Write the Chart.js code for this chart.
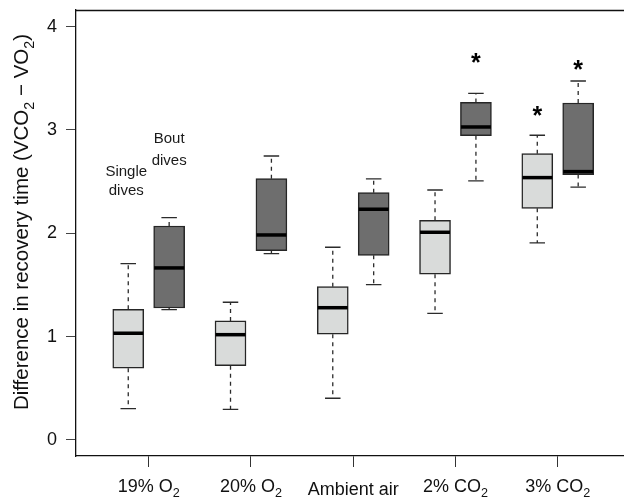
<!DOCTYPE html>
<html>
<head>
<meta charset="utf-8">
<script src="https://cdn.jsdelivr.net/npm/chart.js@4/dist/chart.umd.min.js"></script>
<style>
html,body{margin:0;padding:0;background:#fff;overflow:hidden;}
canvas{display:block;}
</style>
</head>
<body>
<canvas id="c" width="624" height="497"></canvas>
<script>
// ---- data ----
const categories = ['19% O₂', '20% O₂', 'Ambient air', '2% CO₂', '3% CO₂'];
const yTicks = [0, 1, 2, 3, 4];

const singleMin    = [0.303, 0.297, 0.404, 1.226, 1.907];
const singleQ1     = [0.694, 0.719, 1.023, 1.604, 2.242];
const singleMedian = [1.033, 1.019, 1.280, 2.010, 2.539];
const singleQ3     = [1.265, 1.152, 1.484, 2.126, 2.771];
const singleMax    = [1.706, 1.333, 1.865, 2.419, 2.949];

const boutMin      = [1.261, 1.803, 1.503, 2.507, 2.446];
const boutQ1       = [1.277, 1.832, 1.787, 2.945, 2.568];
const boutMedian   = [1.665, 1.984, 2.233, 3.029, 2.597];
const boutQ3       = [2.071, 2.529, 2.393, 3.267, 3.261];
const boutMax      = [2.151, 2.748, 2.526, 3.355, 3.474];

// significance stars (value at which the star is drawn), null = none
const singleStar = [null, null, null, null, 3.187];
const boutStar   = [null, null, null, 3.694, 3.629];

const yTitle = 'Difference in recovery time (VCO₂ − VO₂)';
const seriesNames = ['Single dives', 'Bout dives'];

// ---- styling ----
const FONT = '"Liberation Sans", Arial, Helvetica, sans-serif';
const LIGHT = '#d9dbda';
const DARK = '#6e6e6e';
const EDGE = '#262626';
const OFFSET = 0.2;
const BOXW = 31;

const subMap = {'₀':'0','₁':'1','₂':'2','₃':'3','₄':'4','₅':'5','₆':'6','₇':'7','₈':'8','₉':'9'};
function segments(text){
  const segs = [];
  for (const ch of text){
    const sub = ch in subMap;
    const c = sub ? subMap[ch] : ch;
    if (segs.length && segs[segs.length-1].sub === sub) segs[segs.length-1].t += c;
    else segs.push({t:c, sub});
  }
  return segs;
}
function drawRich(ctx, text, x, y, size){
  const segs = segments(text);
  let w = 0;
  segs.forEach(s => {
    ctx.font = (s.sub ? size*0.7 : size) + 'px ' + FONT;
    s.w = ctx.measureText(s.t).width;
    w += s.w;
  });
  let cx = x - w/2;
  ctx.textAlign = 'left';
  ctx.textBaseline = 'alphabetic';
  segs.forEach(s => {
    ctx.font = (s.sub ? size*0.7 : size) + 'px ' + FONT;
    ctx.fillText(s.t, cx, y + (s.sub ? size*0.28 : 0));
    cx += s.w;
  });
}

const boxPlugin = {
  id: 'boxDecor',
  afterDatasetsDraw(chart){
    const ctx = chart.ctx;
    const xs = chart.scales.x, ys = chart.scales.y;
    const series = [
      {off:-OFFSET, mn:singleMin, md:singleMedian, q1:singleQ1, q3:singleQ3, mx:singleMax, star:singleStar},
      {off: OFFSET, mn:boutMin,   md:boutMedian,   q1:boutQ1,   q3:boutQ3,   mx:boutMax,   star:boutStar}
    ];
    ctx.save();
    series.forEach(s => {
      categories.forEach((c, i) => {
        const xc = xs.getPixelForValue(i + s.off);
        const yMin = ys.getPixelForValue(s.mn[i]);
        const yMax = ys.getPixelForValue(s.mx[i]);
        const yQ1 = ys.getPixelForValue(s.q1[i]);
        const yQ3 = ys.getPixelForValue(s.q3[i]);
        const yMd = ys.getPixelForValue(s.md[i]);
        ctx.strokeStyle = '#2b2b2b';
        ctx.lineWidth = 1.3;
        ctx.setLineDash([4, 4]);
        ctx.beginPath();
        ctx.moveTo(xc, yQ3); ctx.lineTo(xc, yMax);
        ctx.moveTo(xc, yQ1); ctx.lineTo(xc, yMin);
        ctx.stroke();
        ctx.setLineDash([]);
        ctx.beginPath();
        ctx.moveTo(xc - BOXW/4, yMax); ctx.lineTo(xc + BOXW/4, yMax);
        ctx.moveTo(xc - BOXW/4, yMin); ctx.lineTo(xc + BOXW/4, yMin);
        ctx.stroke();
        ctx.strokeStyle = '#000';
        ctx.lineWidth = 3.5;
        ctx.beginPath();
        ctx.moveTo(xc - BOXW/2 + 0.5, yMd); ctx.lineTo(xc + BOXW/2 - 0.5, yMd);
        ctx.stroke();
        if (s.star[i] != null){
          ctx.fillStyle = '#000';
          ctx.font = 'bold 25px ' + FONT;
          ctx.textAlign = 'center';
          ctx.textBaseline = 'alphabetic';
          const m = ctx.measureText('*');
          const yc = ys.getPixelForValue(s.star[i]);
          ctx.fillText('*', xc, yc + (m.actualBoundingBoxAscent - m.actualBoundingBoxDescent)/2);
        }
      });
    });
    ctx.fillStyle = '#1a1a1a';
    ctx.font = '15px ' + FONT;
    ctx.textAlign = 'center';
    ctx.textBaseline = 'alphabetic';
    const sx = xs.getPixelForValue(-OFFSET) - 2;
    const bx = xs.getPixelForValue(OFFSET);
    const sw = seriesNames[0].split(' '), bw = seriesNames[1].split(' ');
    ctx.fillText(sw[0], sx, ys.getPixelForValue(2.555));
    ctx.fillText(sw[1], sx, ys.getPixelForValue(2.371));
    ctx.fillText(bw[0], bx, ys.getPixelForValue(2.871));
    ctx.fillText(bw[1], bx, ys.getPixelForValue(2.661));
    ctx.restore();
  },
  afterDraw(chart){
    const ctx = chart.ctx;
    const a = chart.chartArea;
    const xs = chart.scales.x;
    ctx.save();
    ctx.strokeStyle = '#111';
    ctx.lineWidth = 1.3;
    ctx.beginPath();
    ctx.moveTo(a.left, Math.round(a.top) + 0.5);
    ctx.lineTo(a.right, Math.round(a.top) + 0.5);
    ctx.stroke();
    ctx.fillStyle = '#111';
    categories.forEach((c, i) => {
      const x = xs.getPixelForValue(i);
      const hasSub = /[₀-₉]/.test(c);
      drawRich(ctx, c, x, hasSub ? 491.5 : 495, 18);
    });
    ctx.translate(21, 222);
    ctx.rotate(-Math.PI/2);
    ctx.fillStyle = '#111';
    drawRich(ctx, yTitle, 0, 7, 20.5);
    ctx.restore();
  }
};

const chart = new Chart(document.getElementById('c'), {
  type: 'bar',
  data: {
    datasets: [
      {
        label: seriesNames[0],
        data: categories.map((c, i) => ({x: i - OFFSET, y: [singleQ1[i], singleQ3[i]]})),
        backgroundColor: LIGHT,
        borderColor: EDGE,
        borderWidth: 1.5,
        borderSkipped: false,
        barThickness: BOXW,
        grouped: false
      },
      {
        label: seriesNames[1],
        data: categories.map((c, i) => ({x: i + OFFSET, y: [boutQ1[i], boutQ3[i]]})),
        backgroundColor: DARK,
        borderColor: EDGE,
        borderWidth: 1.5,
        borderSkipped: false,
        barThickness: BOXW,
        grouped: false
      }
    ]
  },
  options: {
    responsive: false,
    devicePixelRatio: 1,
    animation: false,
    layout: {padding: {top: 10, left: 0, right: 0, bottom: 0}},
    plugins: {legend: {display: false}, tooltip: {enabled: false}, title: {display: false}},
    scales: {
      x: {
        type: 'linear',
        offset: false,
        min: -0.711,
        max: 4.648,
        afterBuildTicks: s => { s.ticks = categories.map((c, i) => ({value: i})); },
        afterFit: s => { s.height = 41; s.paddingLeft = 0; s.paddingRight = 0; },
        grid: {offset: false, drawOnChartArea: false, drawTicks: true, tickLength: 11, color: '#333', lineWidth: 1},
        border: {display: true, color: '#111', width: 1.3},
        ticks: {display: false}
      },
      y: {
        type: 'linear',
        min: -0.155,
        max: 4.161,
        afterBuildTicks: s => { s.ticks = yTicks.map(v => ({value: v})); },
        afterFit: s => { s.width = 76; s.paddingTop = 0; s.paddingBottom = 0; },
        grid: {drawOnChartArea: false, drawTicks: true, tickLength: 10, color: '#444', lineWidth: 1},
        border: {display: true, color: '#111', width: 1.3},
        ticks: {
          padding: 9,
          color: '#111',
          font: {family: FONT, size: 18},
          callback: v => String(v)
        }
      }
    }
  },
  plugins: [boxPlugin]
});
</script>
</body>
</html>
